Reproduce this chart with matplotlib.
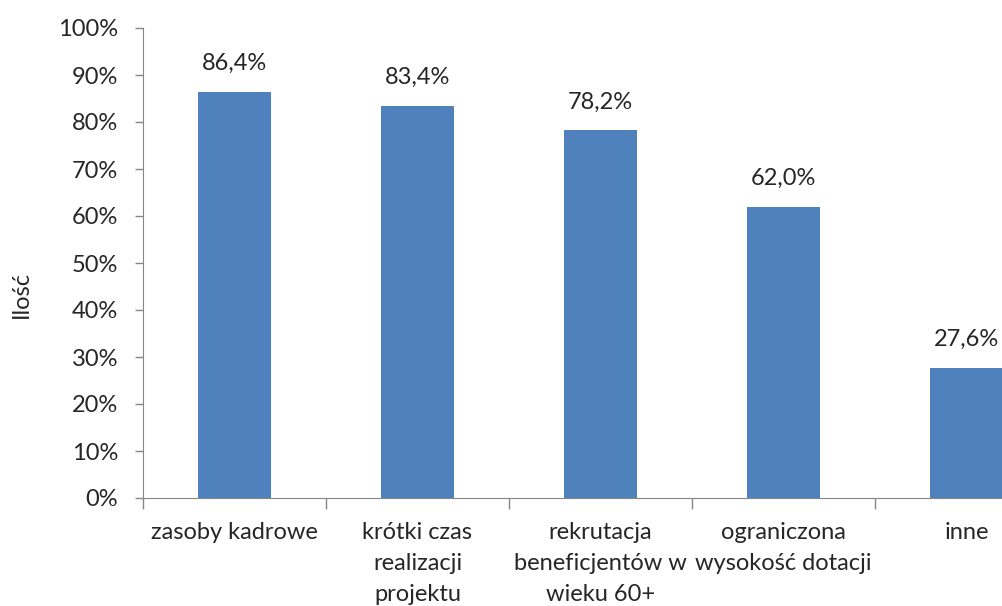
import matplotlib
matplotlib.use("Agg")
import matplotlib.pyplot as plt
from matplotlib.ticker import FixedLocator, NullFormatter

categories = ["zasoby kadrowe", "krótki czas\nrealizacji\nprojektu",
              "rekrutacja\nbeneficjentów w\nwieku 60+",
              "ograniczona\nwysokość dotacji", "inne"]
values = [86.4, 83.4, 78.2, 62.0, 27.6]
value_labels = ["86,4%", "83,4%", "78,2%", "62,0%", "27,6%"]
yticks = [0, 10, 20, 30, 40, 50, 60, 70, 80, 90, 100]
ytick_labels = [f"{t}%" for t in yticks]

plt.rcParams['font.family'] = ['Lato', 'DejaVu Sans']
W, H = 1003, 606
fig = plt.figure(figsize=(W / 100, H / 100), dpi=100)
left, right, top, bottom = 143, 143 + 5 * 183, 28, 498
ax = fig.add_axes([left / W, 1 - bottom / H, (right - left) / W, (bottom - top) / H])

FS = 17
TC = "#262626"
x = list(range(len(categories)))
ax.bar(x, values, width=0.40, color="#4F81BD", zorder=2)
for xi, v, lab in zip(x, values, value_labels):
    ax.annotate(lab, (xi, v), xytext=(0, 13), textcoords="offset points",
                ha="center", va="bottom", fontsize=FS, color=TC)

ax.set_xlim(-0.5, len(categories) - 0.5)
ax.set_ylim(0, 100)
ax.set_yticks(yticks)
ax.set_yticklabels(ytick_labels, fontsize=FS, color=TC)
ax.xaxis.set_major_locator(FixedLocator([i - 0.5 for i in range(len(categories) + 1)]))
ax.xaxis.set_major_formatter(NullFormatter())
ax.xaxis.set_minor_locator(FixedLocator(x))
ax.set_xticklabels(categories, minor=True, fontsize=FS, color=TC, linespacing=1.6)
ax.tick_params(axis="x", which="minor", length=0, pad=17)
ax.tick_params(axis="x", which="major", length=8, color="#868686", width=1)
ax.tick_params(axis="y", length=6, color="#868686", width=1, pad=12)
for s in ["top", "right"]:
    ax.spines[s].set_visible(False)
for s in ["left", "bottom"]:
    ax.spines[s].set_color("#868686")
ax.set_ylabel("Ilość", fontsize=FS, color=TC)
ax.yaxis.set_label_coords(-(143 - 32) / 915, 0.5 - (295 - 263) / 470)

fig.savefig("out.png", dpi=100)
